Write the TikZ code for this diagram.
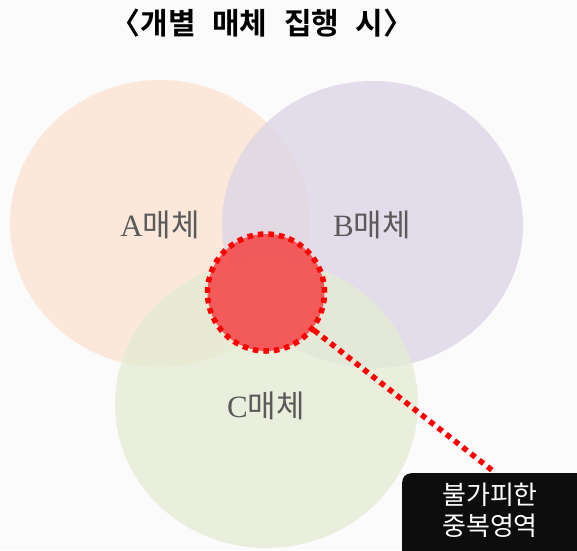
\documentclass[tikz,border=0pt]{standalone}
\usepackage{fontspec}
\usetikzlibrary{shapes.geometric}
\setmainfont{Liberation Serif}
\newfontfamily\kr{Noto Sans CJK KR}
\newfontfamily\krb{Noto Sans CJK KR Bold}
\definecolor{bgc}{HTML}{FBFBFB}
\definecolor{ca}{RGB}{252,226,207}
\definecolor{cb}{RGB}{219,212,230}
\definecolor{cc}{RGB}{227,236,210}
\definecolor{redf}{HTML}{F44C4C}
\definecolor{labc}{HTML}{5A5A5A}
\definecolor{boxc}{HTML}{0D0D0D}
\tikzset{
  setc/.style={ellipse, inner sep=0pt, fill opacity=0.75},
  lab/.style={text=labc, font=\fontsize{31}{34}\selectfont, inner sep=0pt},
  dotline/.style={draw=red, line width=5.5pt, dash pattern=on 5.5pt off 5pt},
}
\begin{document}
\begin{tikzpicture}[x=1pt,y=-1pt]
\useasboundingbox (0,0) rectangle (577,550);
\fill[bgc] (0,0) rectangle (577,550);
\node[setc, minimum width=300pt, minimum height=287pt, fill=ca] (A) at (160,223.5) {};
\node[setc, minimum width=301pt, minimum height=287pt, fill=cb] (B) at (372.5,224.5) {};
\node[setc, minimum width=303pt, minimum height=288pt, fill=cc] (C) at (266.5,404) {};
\node[lab] (la) at (160,225) {A{\kr 매체}};
\node[lab] (lb) at (372,225) {B{\kr 매체}};
\node[lab] (lc) at (266,406) {C{\kr 매체}};
\node[circle, inner sep=0pt, minimum size=117pt, fill=redf, fill opacity=0.9, dotline] (R) at (266,292.5) {};
\node[font=\krb\fontsize{30}{33}\selectfont, inner sep=0pt] (T) at (262,23) {〈개별\hspace{0.55em}매체\hspace{0.55em}집행\hspace{0.55em}시〉};
\node[fill=boxc, rounded corners=9pt, minimum width=200pt, minimum height=100pt, anchor=north west, inner sep=0pt] (box) at (402,473) {};
\node[text=white, font=\kr\fontsize{26}{31}\selectfont, align=center, inner sep=0pt] (bt) at (490,510) {불가피한\\중복영역};
\coordinate (lend) at (493,471);
\draw[dotline] (R) -- (lend);
\end{tikzpicture}
\end{document}
